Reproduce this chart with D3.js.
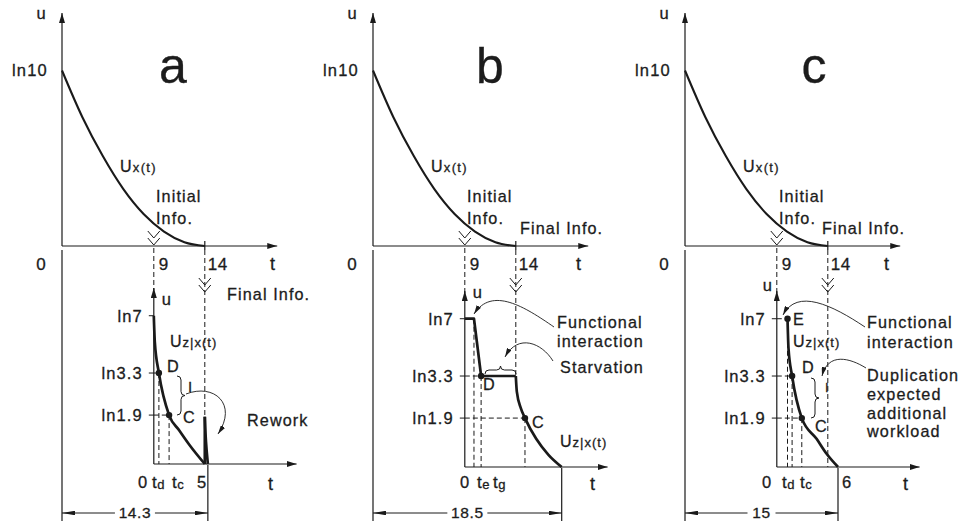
<!DOCTYPE html>
<html>
<head>
<meta charset="utf-8">
<script src="https://cdn.jsdelivr.net/npm/d3@7"></script>
<style>
  body { margin: 0; background: #fff; }
  svg text { font-family: "Liberation Sans", Arial, sans-serif; fill: #1c1c1c; stroke: #1c1c1c; stroke-width: 0.3px; }
</style>
</head>
<body>
<svg id="chart" width="968" height="527"></svg>
<script>
// ---- data ---------------------------------------------------------------
const panelNames = ["a", "b", "c"];

// Upstream information evolution U_x(t), identical in every panel
const upstreamT = [0, 2, 4, 6, 8, 10, 12, 14];
const upstreamU = [2.303, 1.69, 1.18, 0.75, 0.42, 0.19, 0.05, 0];
const initialInfoT = 9;
const finalInfoT = 14;
const upperTickT = [9, 14];
const upperTickLabels = ["9", "14"];

const ln7 = Math.log(7), ln33 = Math.log(3.3), ln19 = Math.log(1.9);
const lowerTickVals = [ln7, ln33, ln19];
const lowerTickLabels = ["ln7", "ln3.3", "ln1.9"];

// Downstream evolution U_z|x(t), local time axis starting at t = 9
const aDownT = [0, 0.1, 0.5, 1.5, 2.5, 3.5, 5];
const aDownU = [ln7, 1.6, ln33, ln19, 0.44, 0.25, 0];
const aReworkT = [5, 5, 5.1, 5.3];
const aReworkU = [0, 0.62, 0.28, 0];
const aPointT = [0.5, 1.5];
const aPointU = [ln33, ln19];

const bHeadT = [0, 0.9, 1.6, 5];
const bHeadU = [ln7, ln7, ln33, ln33];
const bTailT = [5, 5.1, 5.5, 5.9, 7, 8.2, 9.5];
const bTailU = [ln33, 0.99, 0.77, ln19, 0.37, 0.16, 0];
const bPointT = [1.6, 5.9];
const bPointU = [ln33, ln19];

const cDownT = [1.05, 1.15, 1.5, 2.45, 3.9, 4.9, 6];
const cDownU = [ln7, 1.55, ln33, ln19, 0.37, 0.17, 0];
const cPointT = [1.05, 1.5, 2.45];
const cPointU = [ln7, ln33, ln19];

// Overall duration of each scenario
const totalDuration = [14.3, 18.5, 15];
const durationLabels = ["14.3", "18.5", "15"];

// ---- layout -------------------------------------------------------------
const svg = d3.select("#chart");
const ink = "#1a1a1a";
const originX = [62, 373, 685];
const pxPerT = 10.2;
const pxPerU = 76.2;
const upperBase = 246;
const lowerBase = [464, 467, 467];
const dimY = 513;

const defs = svg.append("defs");
function marker(id, w, h) {
  defs.append("marker").attr("id", id)
    .attr("viewBox", `0 0 ${w} ${h}`).attr("refX", w).attr("refY", h / 2)
    .attr("markerWidth", w).attr("markerHeight", h)
    .attr("markerUnits", "userSpaceOnUse").attr("orient", "auto")
    .append("path").attr("d", `M0,0L${w},${h / 2}L0,${h}Z`).attr("fill", ink);
}
marker("axisArrow", 10, 6);
marker("noteArrow", 9, 5);
marker("dimArrow", 13, 4.5);

function txt(g, x, y, parts, o = {}) {
  const t = g.append("text").attr("x", x).attr("y", y)
    .attr("text-anchor", o.anchor || "start")
    .style("letter-spacing", (o.ls != null ? o.ls : 1.1) + "px");
  (Array.isArray(parts) ? parts : [[parts, o.size || 16.2]]).forEach(p => {
    const s = t.append("tspan").attr("font-size", p[1]).text(p[0]);
    if (p[2]) s.attr("dy", p[2]);
  });
  return t;
}
function seg(g, x1, y1, x2, y2, o = {}) {
  const l = g.append("line").attr("x1", x1).attr("y1", y1).attr("x2", x2).attr("y2", y2)
    .attr("stroke", ink).attr("stroke-width", o.w || 1.2);
  if (o.dash) l.attr("stroke-dasharray", "5,3").attr("stroke-width", o.w || 1);
  if (o.arrow) l.attr("marker-end", `url(#${o.arrow})`);
  return l;
}
function chevrons(g, x, yTip) {
  const d = [0, 7].map(k => `M${x - 6},${yTip - 7 - k}L${x},${yTip - k}L${x + 6},${yTip - 7 - k}`).join("");
  g.append("path").attr("d", d).attr("fill", "none").attr("stroke", ink).attr("stroke-width", 1);
}
function braceV(g, x, y1, y2, w) {
  const m = (y1 + y2) / 2, h = w / 2, q = 4;
  g.append("path").attr("fill", "none").attr("stroke", ink).attr("stroke-width", 1)
    .attr("d", `M${x},${y1}Q${x + h},${y1} ${x + h},${y1 + q}L${x + h},${m - q}Q${x + h},${m} ${x + w},${m}` +
               `Q${x + h},${m} ${x + h},${m + q}L${x + h},${y2 - q}Q${x + h},${y2} ${x},${y2}`);
}
function braceH(g, x1, x2, y, h) {
  const m = (x1 + x2) / 2, c = h / 2, q = 4;
  g.append("path").attr("fill", "none").attr("stroke", ink).attr("stroke-width", 1)
    .attr("d", `M${x1},${y}Q${x1},${y - c} ${x1 + q},${y - c}L${m - q},${y - c}Q${m},${y - c} ${m},${y - h}` +
               `Q${m},${y - c} ${m + q},${y - c}L${x2 - q},${y - c}Q${x2},${y - c} ${x2},${y}`);
}
function note(g, d) {
  g.append("path").attr("d", d).attr("fill", "none").attr("stroke", ink)
    .attr("stroke-width", 0.9).attr("marker-end", "url(#noteArrow)");
}

// ---- panels -------------------------------------------------------------
const downstream = [
  [{ t: aDownT, u: aDownU, curve: d3.curveMonotoneX }, { t: aReworkT.slice(0, 2), u: aReworkU.slice(0, 2), curve: d3.curveLinear }],
  [{ t: bHeadT, u: bHeadU, curve: d3.curveLinear }, { t: bTailT, u: bTailU, curve: d3.curveMonotoneX }],
  [{ t: cDownT, u: cDownU, curve: d3.curveMonotoneX }]
];
const points = [[aPointT, aPointU], [bPointT, bPointU], [cPointT, cPointU]];

panelNames.forEach((name, i) => {
  const g = svg.append("g");
  const x = d3.scaleLinear().domain([0, 21.1]).range([originX[i], originX[i] + 21.1 * pxPerT]);
  const xl = t => x(t + initialInfoT);
  const yU = d3.scaleLinear().domain([0, Math.log(10)]).range([upperBase, upperBase - Math.log(10) * pxPerU]);
  const yL = d3.scaleLinear().domain([0, ln7]).range([lowerBase[i], lowerBase[i] - ln7 * pxPerU]);
  const lowerTop = lowerBase[i] - 176;
  const ox = originX[i];

  // upper axes
  seg(g, x(0), upperBase, x(0), 13, { arrow: "axisArrow" });
  seg(g, x(0), upperBase, x(21.1), upperBase, { arrow: "axisArrow" });
  seg(g, x(finalInfoT), upperBase - 5, x(finalInfoT), upperBase + 4);
  txt(g, ox - 21, 19, "u", { anchor: "middle", size: 16.5, ls: 0 });
  txt(g, ox - 14, 76, "ln10", { anchor: "end", size: 16.5, ls: 1.2 });
  txt(g, ox - 21, 270, "0", { anchor: "middle", size: 17, ls: 0 });
  upperTickT.forEach((t, k) => txt(g, x(t) + (k ? 3 : 5), 270, upperTickLabels[k], { size: 17, ls: 0.4 }));
  txt(g, [270, 576, 884][i], 270, "t", { size: 18, ls: 0 });
  txt(g, [173, 490, 814][i], 83, name, { anchor: "middle", size: 50, ls: 0 });

  // upstream curve
  const upLine = d3.line().x(d => x(d[0])).y(d => yU(d[1])).curve(d3.curveMonotoneX);
  g.append("path").attr("d", upLine(d3.zip(upstreamT, upstreamU)))
    .attr("fill", "none").attr("stroke", ink).attr("stroke-width", 2.1);
  txt(g, ox + 58, 172, [["U", 16], ["x(t)", 13]], { ls: 1.3 });
  txt(g, ox + 94, 202, "Initial");
  txt(g, ox + 94, 224, "Info.");
  chevrons(g, x(initialInfoT), upperBase - 1);

  // guide lines between the two diagrams
  seg(g, x(0), 250, x(0), 521);
  seg(g, x(initialInfoT), upperBase + 2, x(initialInfoT), lowerTop + 2, { dash: true });
  const stop14 = i === 1 ? yL(ln33) : lowerBase[i];
  seg(g, x(finalInfoT), upperBase + 4, x(finalInfoT), stop14, { dash: true });
  chevrons(g, x(finalInfoT), 292);
  if (i === 0) txt(g, 227, 300, "Final Info.");
  else txt(g, [0, 520, 822][i], 234, "Final Info.");

  // lower axes
  seg(g, xl(0), lowerBase[i], xl(0), lowerTop, { arrow: "axisArrow" });
  seg(g, xl(0), lowerBase[i], xl(14), lowerBase[i], { arrow: "axisArrow" });
  lowerTickVals.forEach((v, k) => {
    seg(g, xl(0) - 5, yL(v), xl(0), yL(v), { w: 1 });
    txt(g, xl(0) - 11, yL(v) + 6, lowerTickLabels[k], { anchor: "end", size: 16.5, ls: 1.1 });
  });
  txt(g, i === 2 ? xl(0) - 14 : xl(0) + 8, [305, 298, 291][i], "u", { size: 16.5, ls: 0 });
  txt(g, [268, 590, 903][i], 490, "t", { size: 18, ls: 0 });

  // guide dashes to the marked points
  const [pt, pu] = points[i];
  pt.forEach((t, k) => {
    seg(g, xl(t), yL(pu[k]), xl(t), lowerBase[i], { dash: true });
    seg(g, xl(0), yL(pu[k]), xl(t), yL(pu[k]), { dash: true });
  });
  if (i === 1) seg(g, xl(bHeadT[1]), yL(ln7), xl(bHeadT[1]), lowerBase[i], { dash: true });

  // downstream curves
  downstream[i].forEach(s => {
    const ln = d3.line().x(d => xl(d[0])).y(d => yL(d[1])).curve(s.curve);
    g.append("path").attr("d", ln(d3.zip(s.t, s.u)))
      .attr("fill", "none").attr("stroke", ink).attr("stroke-width", 2.7).attr("stroke-linejoin", "round");
  });
  if (i === 0) {
    const lr = d3.line().x(d => xl(d[0])).y(d => yL(d[1])).curve(d3.curveBasis);
    g.append("path").attr("d", lr(d3.zip(aReworkT.slice(1), aReworkU.slice(1))))
      .attr("fill", "none").attr("stroke", ink).attr("stroke-width", 2.7);
  }
  pt.forEach((t, k) => g.append("circle").attr("cx", xl(t)).attr("cy", yL(pu[k])).attr("r", 3.2).attr("fill", ink));

  // dimension line for the overall duration
  const xEnd = x(totalDuration[i]);
  seg(g, xEnd, lowerBase[i] + 1, xEnd, 521);
  const mid = (x(0) + xEnd) / 2, gap = i === 2 ? 14 : 20;
  seg(g, mid - gap, dimY, x(0), dimY, { w: 1, arrow: "dimArrow" });
  seg(g, mid + gap, dimY, xEnd, dimY, { w: 1, arrow: "dimArrow" });
  txt(g, mid, dimY + 5, durationLabels[i], { anchor: "middle", size: 15.5, ls: 0.6 });
});

// ---- annotations --------------------------------------------------------
const A = svg.append("g");
// panel a
txt(A, 167, 372, "D"); txt(A, 183, 423, "C"); txt(A, 188, 392, "I", { size: 15 });
txt(A, 170, 347, [["U", 16], ["z|x(t)", 13]], { ls: 1 });
txt(A, 138, 488, "0", { size: 16.5, ls: 0 });
txt(A, 152, 488, [["t", 17], ["d", 13, 1]], { ls: 0.6 });
txt(A, 172, 488, [["t", 17], ["c", 13, 1]], { ls: 0.6 });
txt(A, 197, 488, "5", { size: 16.5, ls: 0 });
txt(A, 247, 426, "Rework");
braceV(A, 177, 376, 415, 8);
note(A, "M186,394C214,383 238,404 218,434");

// panel b
txt(A, 483, 390, "D"); txt(A, 532, 428, "C");
txt(A, 560, 447, [["U", 16], ["z|x(t)", 13]], { ls: 1 });
txt(A, 460, 488, "0", { size: 16.5, ls: 0 });
txt(A, 477, 488, [["t", 17], ["e", 13, 1]], { ls: 0.4 });
txt(A, 493, 488, [["t", 17], ["g", 13, 1]], { ls: 0.4 });
txt(A, 557, 328, "Functional");
txt(A, 557, 347, "interaction");
txt(A, 560, 373, "Starvation");
braceH(A, 485, 516, 374, 8);
note(A, "M554,327C525,307 492,286 474,314");
note(A, "M553,361C542,343 518,333 505,357");

// panel c
txt(A, 793, 325, "E"); txt(A, 802, 373, "D"); txt(A, 815, 432, "C");
txt(A, 825, 392, "I", { size: 13 });
txt(A, 793, 347, [["U", 16], ["z|x(t)", 13]], { ls: 1 });
txt(A, 762, 488, "0", { size: 16.5, ls: 0 });
txt(A, 782, 488, [["t", 17], ["d", 13, 1]], { ls: 0.6 });
txt(A, 800, 488, [["t", 17], ["c", 13, 1]], { ls: 0.6 });
txt(A, 842, 488, "6", { size: 16.5, ls: 0 });
txt(A, 867, 328, "Functional");
txt(A, 867, 348, "interaction");
txt(A, 867, 381, "Duplication");
txt(A, 867, 400, "expected");
txt(A, 867, 419, "additional");
txt(A, 867, 437, "workload");
braceV(A, 811, 378, 418, 8);
note(A, "M865,327C832,305 797,288 783,315");
note(A, "M866,368C850,358 828,352 822,376");
</script>
</body>
</html>
